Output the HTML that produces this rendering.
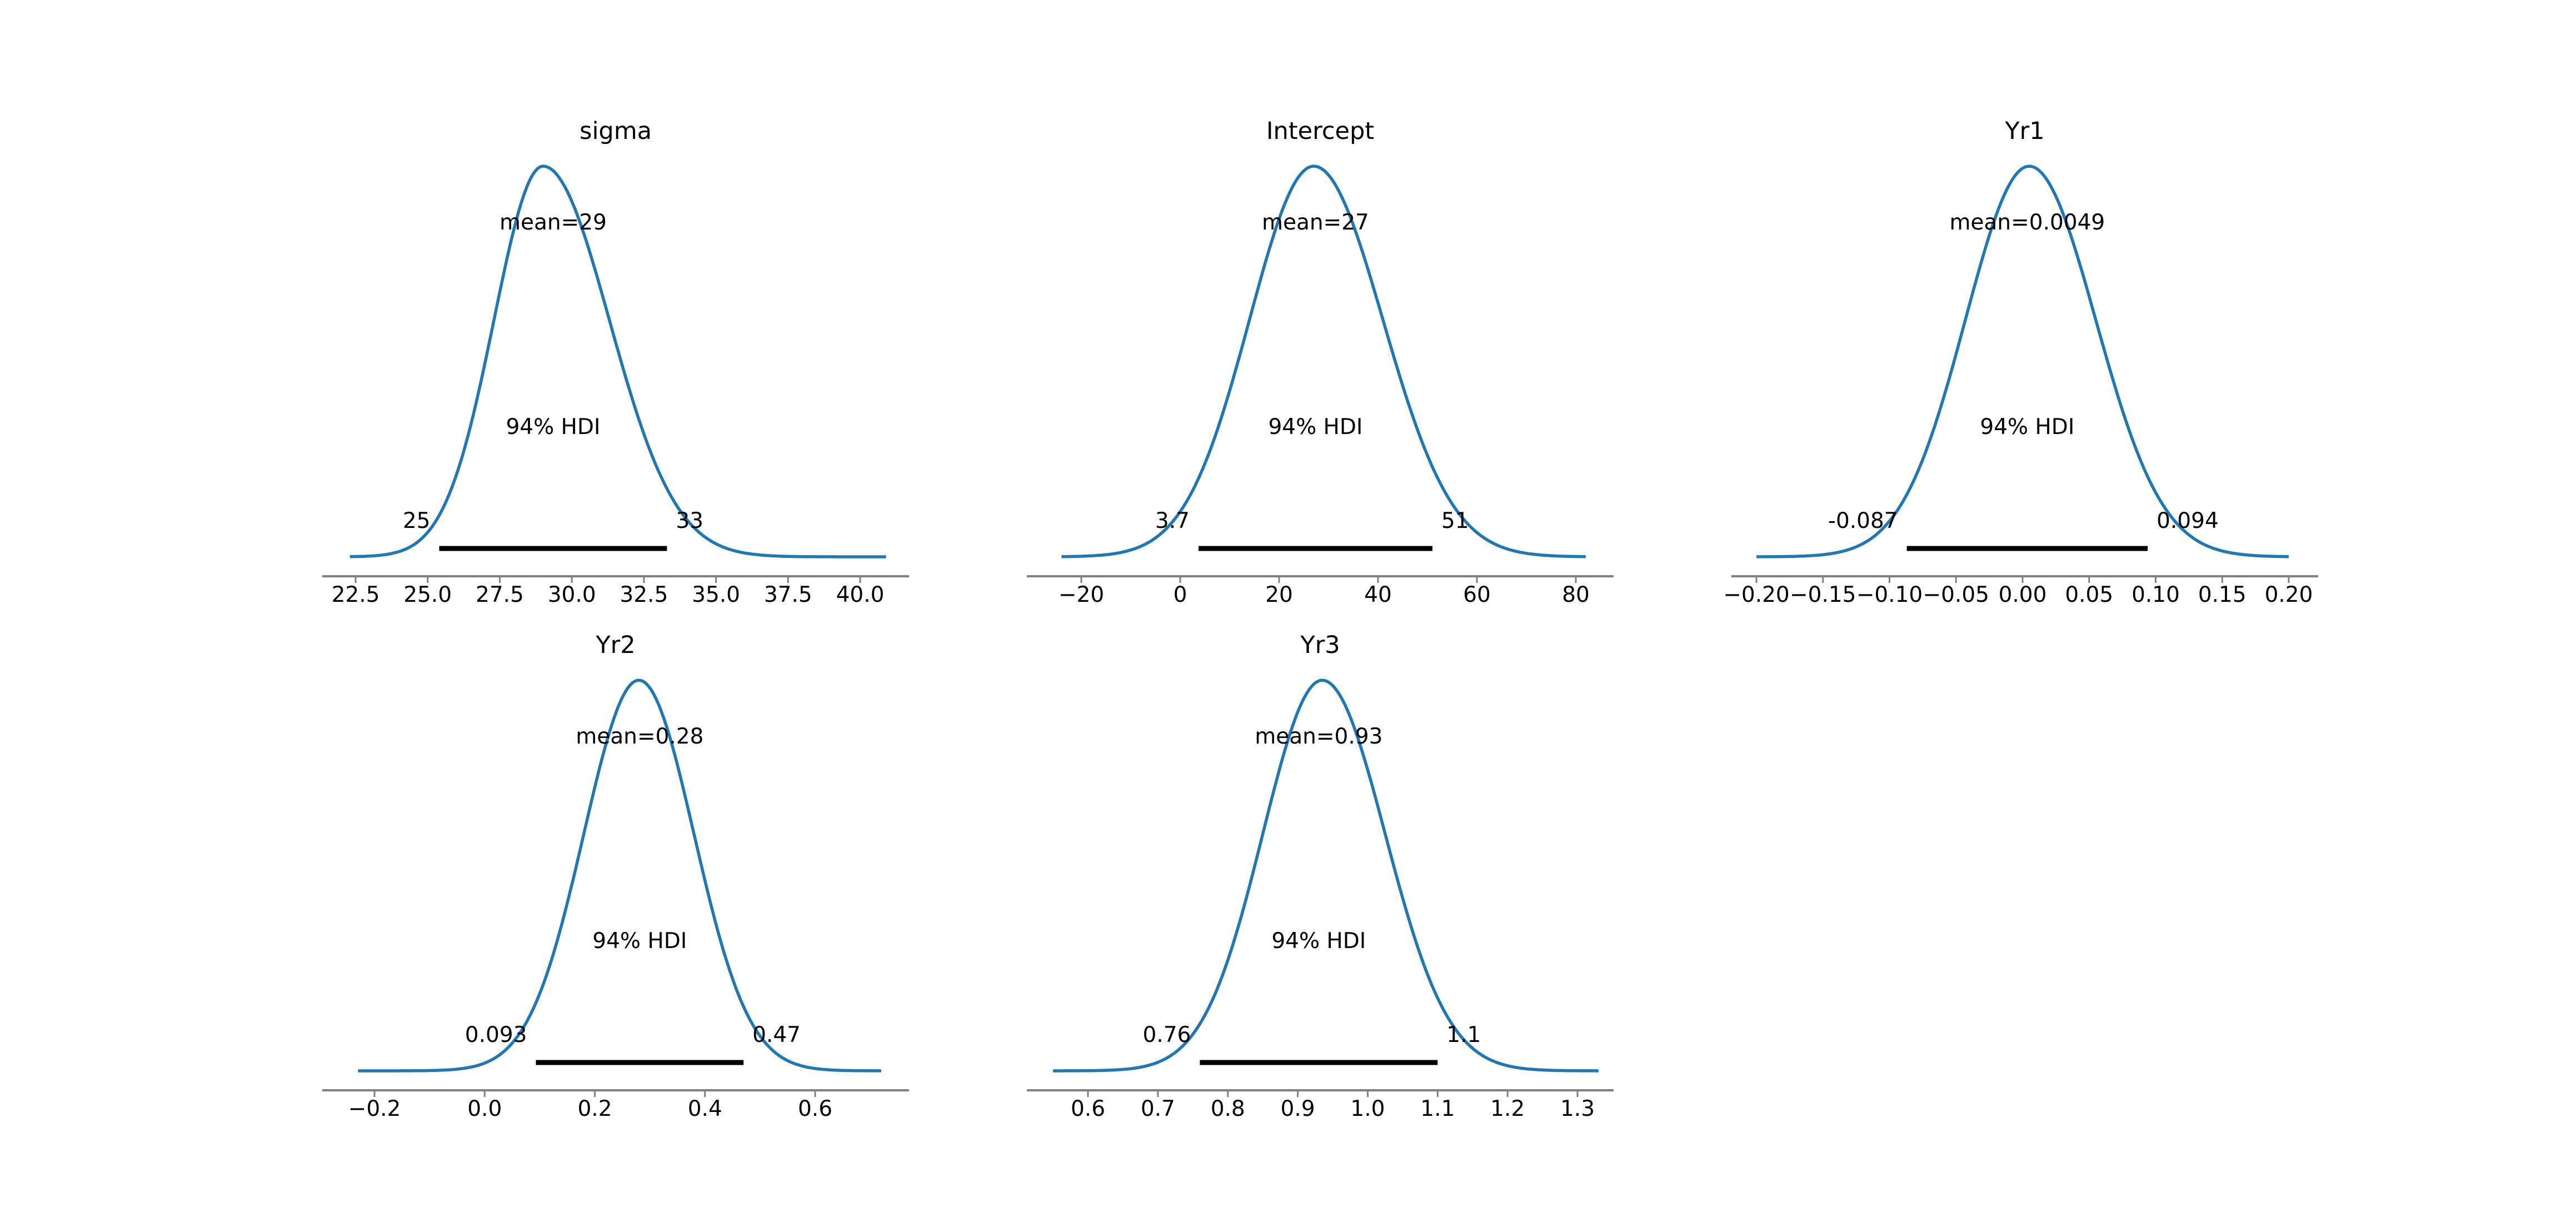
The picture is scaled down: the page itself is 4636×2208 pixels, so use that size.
<!DOCTYPE html>
<html><head><meta charset="utf-8"><style>
html,body{margin:0;padding:0;background:#fff;}
svg{display:block;}
text{font-family:"DejaVu Sans","Liberation Sans",sans-serif;fill:#000;}
</style></head><body>
<svg id="s" width="4636" height="2208" xmlns="http://www.w3.org/2000/svg"></svg>
<script>
const S=document.getElementById('s');let h='';
const panels=[
 {t:'sigma',dx:0,dy:0,v0:22.5,p0:640,v1:40,p1:1548,lo:22.3,hi:40.9,m:29,sl:1.7,sr:2.3,ticks:[22.5,25,27.5,30,32.5,35,37.5,40],fmt:1,h0:25.4,h1:33.3,l0:'25',l1:'33',ml:'mean=29'},
 {t:'Intercept',dx:1268,dy:0,v0:-20,p0:1946-1268,v1:80,p1:2836-1268,lo:-24,hi:82,m:27,sl:13,sr:14,ticks:[-20,0,20,40,60,80],fmt:0,h0:3.7,h1:51,l0:'3.7',l1:'51',ml:'mean=27'},
 {t:'Yr1',dx:2536,dy:0,v0:-0.2,p0:3161-2536,v1:0.2,p1:4119-2536,lo:-0.2,hi:0.2,m:0.005,sl:0.048,sr:0.05,ticks:[-0.2,-0.15,-0.1,-0.05,0,0.05,0.1,0.15,0.2],fmt:2,h0:-0.087,h1:0.094,l0:'-0.087',l1:'0.094',ml:'mean=0.0049'},
 {t:'Yr2',dx:0,dy:925,v0:-0.2,p0:674,v1:0.6,p1:1467,lo:-0.23,hi:0.72,m:0.28,sl:0.1,sr:0.1,ticks:[-0.2,0,0.2,0.4,0.6],fmt:1,h0:0.093,h1:0.47,l0:'0.093',l1:'0.47',ml:'mean=0.28'},
 {t:'Yr3',dx:1268,dy:925,v0:0.6,p0:690,v1:1.3,p1:1571,lo:0.55,hi:1.33,m:0.935,sl:0.085,sr:0.09,ticks:[0.6,0.7,0.8,0.9,1.0,1.1,1.2,1.3],fmt:1,h0:0.76,h1:1.1,l0:'0.76',l1:'1.1',ml:'mean=0.93'}
];
function f(v,d){let s=v.toFixed(d);if(v<0)s='\u2212'+s.slice(1);return s;}
for(const P of panels){
 const X=v=>P.dx+P.p0+(v-P.v0)*(P.p1-P.p0)/(P.v1-P.v0);
 const dy=P.dy;
 const base=1002+dy, peak=299+dy;
 let d='';const N=200;
 for(let i=0;i<=N;i++){const v=P.lo+(P.hi-P.lo)*i/N;const sd=v<P.m?P.sl:P.sr;const z=(v-P.m)/sd;const y=base-(base-peak)*Math.exp(-z*z/2);d+=(i?'L':'M')+X(v).toFixed(1)+' '+y.toFixed(1);}
 h+=`<path d="${d}" fill="none" stroke="#1f77b4" stroke-width="5.5"/>`;
 const ax=1037+dy;
 h+=`<line x1="${P.dx+580}" x2="${P.dx+1636}" y1="${ax}" y2="${ax}" stroke="#808080" stroke-width="4"/>`;
 for(const t of P.ticks){const x=X(t);h+=`<line x1="${x}" x2="${x}" y1="${ax}" y2="${ax+12}" stroke="#808080" stroke-width="3"/><text x="${x}" y="${ax+46}" font-size="39" text-anchor="middle">${f(t,P.fmt)}</text>`;}
 h+=`<text x="${P.dx+1108}" y="${250+dy}" font-size="43" text-anchor="middle">${P.t}</text>`;
 const b0=X(P.h0),b1=X(P.h1),mid=(b0+b1)/2;
 h+=`<line x1="${b0}" x2="${b1}" y1="${987+dy}" y2="${987+dy}" stroke="#000" stroke-width="9"/>`;
 h+=`<text x="${mid}" y="${413+dy}" font-size="39" text-anchor="middle">${P.ml}</text>`;
 h+=`<text x="${mid}" y="${781+dy}" font-size="39" text-anchor="middle">94% HDI</text>`;
 h+=`<text x="${b0-16}" y="${950+dy}" font-size="39" text-anchor="end">${P.l0}</text>`;
 h+=`<text x="${b1+16}" y="${950+dy}" font-size="39" text-anchor="start">${P.l1}</text>`;
}
S.innerHTML=h;
</script>
</body></html>
